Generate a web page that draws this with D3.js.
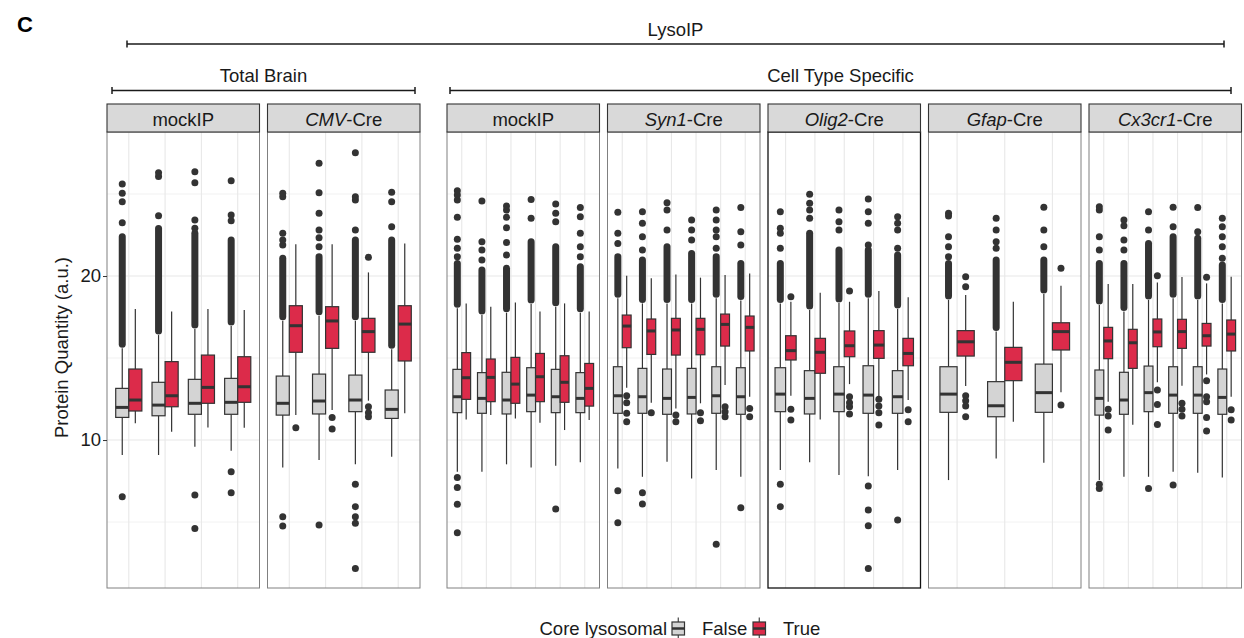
<!DOCTYPE html>
<html>
<head>
<meta charset="utf-8">
<script src="https://cdn.jsdelivr.net/npm/d3@7"></script>
<style>
  body { margin: 0; background: #fff; }
  svg { display: block; font-family: "Liberation Sans", Arial, Helvetica, sans-serif; }
</style>
</head>
<body>
<div id="chart"></div>
<script>
// facet strips: [italic part, plain part]
const panelLabels = [["", "mockIP"], ["CMV", "-Cre"], ["", "mockIP"], ["Syn1", "-Cre"],
                     ["Olig2", "-Cre"], ["Gfap", "-Cre"], ["Cx3cr1", "-Cre"]];
const panelGroup = [0, 0, 1, 1, 1, 1, 1];
const groupLabels = ["Total Brain", "Cell Type Specific"];
const yTicks = [10, 20];
const yMinor = [5, 15, 25];

// per sample: [lower whisker, Q1, median, Q3, upper whisker]
const tbMockFalse = [[9.09, 11.38, 11.99, 13.15, 15.59], [9.09, 11.48, 12.13, 13.52, 16.40],
                     [9.59, 11.57, 12.24, 13.70, 16.77], [9.35, 11.57, 12.30, 13.76, 16.95]];
const tbMockTrue = [[11.02, 11.77, 12.44, 14.33, 17.99], [10.51, 12.03, 12.70, 14.78, 17.83],
                    [10.77, 12.24, 13.21, 15.18, 17.99], [10.75, 12.30, 13.25, 15.08, 17.93]];
const cmvFalse = [[8.33, 11.52, 12.24, 13.90, 17.28], [8.78, 11.59, 12.38, 14.02, 17.58],
                  [8.52, 11.73, 12.44, 13.96, 17.28], [8.98, 11.32, 11.87, 13.05, 15.53]];
const cmvTrue = [[11.52, 15.35, 16.97, 18.19, 21.93], [11.83, 15.59, 17.26, 18.13, 21.93],
                 [12.40, 15.35, 16.61, 17.42, 20.22], [11.63, 14.82, 17.07, 18.19, 21.99]];
const ctMockFalse = [[8.07, 11.67, 12.64, 14.31, 18.03], [8.07, 11.63, 12.54, 14.11, 17.62],
                     [8.52, 11.59, 12.44, 14.13, 17.76], [8.33, 11.73, 12.74, 14.41, 18.29],
                     [8.43, 11.67, 12.64, 14.31, 18.13], [8.64, 11.67, 12.54, 14.11, 17.76]];
const ctMockTrue = [[11.26, 12.48, 13.80, 15.33, 18.33], [11.52, 12.34, 13.82, 14.94, 18.13],
                    [11.32, 12.24, 13.41, 15.04, 18.39], [11.06, 12.34, 13.86, 15.28, 17.83],
                    [10.61, 12.30, 13.52, 15.14, 18.33], [11.22, 12.07, 13.15, 14.67, 17.83]];
const syn1False = [[8.27, 11.63, 12.70, 14.47, 18.64], [7.76, 11.63, 12.64, 14.37, 18.33],
                   [8.68, 11.57, 12.54, 14.33, 18.33], [7.66, 11.59, 12.60, 14.37, 18.33],
                   [8.17, 11.63, 12.70, 14.47, 18.64], [7.76, 11.57, 12.64, 14.41, 18.50]];
const syn1True = [[13.19, 15.63, 16.95, 17.62, 20.02], [12.28, 15.22, 16.65, 17.38, 19.86],
                  [11.93, 15.18, 16.71, 17.42, 20.10], [12.24, 15.20, 16.75, 17.42, 19.90],
                  [13.35, 15.73, 17.05, 17.68, 20.06], [12.64, 15.43, 16.87, 17.56, 20.16]];
const olig2False = [[8.17, 11.73, 12.80, 14.41, 18.33], [8.64, 11.59, 12.54, 14.23, 17.93],
                    [7.87, 11.73, 12.80, 14.47, 18.35], [7.80, 11.63, 12.74, 14.53, 18.64],
                    [8.17, 11.63, 12.64, 14.23, 17.99]];
const olig2True = [[12.70, 14.88, 15.45, 16.36, 18.43], [11.26, 14.07, 15.35, 16.20, 18.98],
                   [13.41, 15.08, 15.75, 16.65, 18.43], [12.64, 14.98, 15.79, 16.67, 19.09],
                   [12.44, 14.53, 15.28, 16.20, 18.70]];
const gfapFalse = [[7.56, 11.69, 12.80, 14.47, 18.54], [8.88, 11.42, 12.09, 13.56, 16.61],
                   [8.62, 11.69, 12.89, 14.63, 18.90]];
const gfapTrue = [[13.29, 15.12, 15.99, 16.67, 18.84], [11.12, 13.62, 14.74, 15.65, 18.43],
                  [12.91, 15.49, 16.61, 17.15, 19.41]];
const cx3cr1False = [[7.56, 11.52, 12.54, 14.27, 18.23], [7.76, 11.57, 12.44, 14.13, 17.83],
                     [7.76, 11.73, 12.89, 14.51, 18.54], [8.07, 11.63, 12.74, 14.47, 18.64],
                     [8.01, 11.63, 12.74, 14.47, 18.54], [7.72, 11.57, 12.60, 14.33, 18.33]];
const cx3cr1True = [[12.34, 14.96, 16.04, 16.87, 19.51], [10.93, 14.37, 15.93, 16.75, 19.51],
                    [13.52, 15.69, 16.59, 17.38, 19.61], [13.31, 15.59, 16.61, 17.36, 19.94],
                    [14.00, 15.73, 16.36, 17.11, 19.55], [12.64, 15.43, 16.46, 17.32, 19.96]];

// top of the dense run of outliers just above each False whisker
const tbMockDense = [22.4, 22.9, 22.6, 22.2];
const cmvDense = [21.08, 21.18, 22.2, 22.2];
const ctMockDense = [20.77, 20.37, 20.47, 22.09, 21.79, 20.57];
const syn1Dense = [21.18, 20.98, 21.79, 21.38, 21.18, 20.77];
const olig2Dense = [20.77, 22.60, 21.59, 21.59, 21.28];
const gfapDense = [20.77, 20.98, 20.98];
const cx3cr1Dense = [20.77, 20.77, 21.99, 22.40, 22.30, 20.67];

// single outliers
const tbMockFalseOut = [[23.25, 24.53, 25.04, 25.61, 6.54], [23.68, 26.06, 26.30],
                        [22.91, 23.41, 25.69, 26.36, 6.65, 4.61], [23.37, 23.72, 25.81, 8.07, 6.79]];
const tbMockTrueOut = [[], [], [], []];
const cmvFalseOut = [[21.89, 22.2, 22.6, 24.84, 25.04, 5.33, 4.76],
                     [21.79, 22.34, 22.80, 23.82, 25.08, 26.87, 4.82],
                     [22.80, 24.63, 24.84, 27.52, 7.30, 5.94, 5.33, 4.92, 2.17],
                     [23.01, 24.53, 25.10]];
const cmvTrueOut = [[10.75], [11.38, 10.67], [21.14, 12.03, 11.67, 11.42], []];
const ctMockFalseOut = [[21.18, 21.69, 22.24, 23.58, 24.63, 24.94, 25.20, 7.72, 7.11, 6.08, 4.35],
                        [20.98, 21.59, 22.09, 24.57], [21.28, 22.05, 22.95, 23.58, 24.02, 24.27],
                        [23.52, 24.67], [23.31, 23.82, 24.39, 5.79], [21.18, 21.79, 22.60, 23.62, 24.17]];
const ctMockTrueOut = [[], [], [], [], [], []];
const syn1FalseOut = [[21.99, 22.60, 23.88, 6.91, 4.96], [21.59, 22.40, 23.21, 23.92, 6.79, 6.10],
                      [22.80, 24.02, 24.47], [22.20, 22.80, 23.41],
                      [21.69, 22.40, 22.80, 23.41, 24.02, 3.64], [21.89, 22.70, 24.17, 5.87]];
const syn1TrueOut = [[12.70, 12.28, 11.63, 11.12], [11.67], [11.52, 11.12], [11.67, 11.18],
                     [12.03, 11.73, 11.42], [11.93, 11.42]];
const olig2FalseOut = [[21.69, 22.60, 22.91, 23.92, 7.30, 5.94], [23.52, 24.02, 24.43, 24.98],
                       [22.80, 23.31, 24.02], [21.89, 23.21, 23.92, 24.69, 7.20, 5.73, 4.78, 2.17],
                       [21.69, 22.80, 23.21, 23.62, 5.12]];
const olig2TrueOut = [[18.74, 11.87, 11.22], [], [19.09, 12.64, 12.28, 12.03, 11.59],
                      [12.48, 12.07, 11.67, 10.91], [11.85, 11.12]];
const gfapFalseOut = [[21.18, 21.79, 22.40, 23.66, 23.82], [21.69, 22.09, 22.80, 23.52],
                      [21.79, 22.80, 24.19]];
const gfapTrueOut = [[19.35, 19.96, 12.70, 12.40, 12.07, 11.42], [], [20.47, 12.13]];
const cx3cr1FalseOut = [[21.59, 22.40, 24.02, 24.23, 7.30, 7.05], [21.59, 22.20, 23.07, 23.41],
                        [22.80, 23.92, 7.05], [23.01, 24.19, 7.26], [22.70, 24.17],
                        [21.08, 21.79, 22.40, 23.01, 23.52]];
const cx3cr1TrueOut = [[11.87, 11.46, 10.61], [], [20.02, 13.05, 12.17, 10.95],
                       [12.24, 11.87, 11.46], [19.92, 13.62, 12.64, 12.34, 11.38, 10.55], [11.85, 11.22]];

const falseStats = [tbMockFalse, cmvFalse, ctMockFalse, syn1False, olig2False, gfapFalse, cx3cr1False];
const trueStats = [tbMockTrue, cmvTrue, ctMockTrue, syn1True, olig2True, gfapTrue, cx3cr1True];
const falseDense = [tbMockDense, cmvDense, ctMockDense, syn1Dense, olig2Dense, gfapDense, cx3cr1Dense];
const falseOut = [tbMockFalseOut, cmvFalseOut, ctMockFalseOut, syn1FalseOut, olig2FalseOut, gfapFalseOut, cx3cr1FalseOut];
const trueOut = [tbMockTrueOut, cmvTrueOut, ctMockTrueOut, syn1TrueOut, olig2TrueOut, gfapTrueOut, cx3cr1TrueOut];

const colFalse = "#d4d4d4", colTrue = "#dc2b4a", ink = "#333333";
const fs = "18.5px";

const svg = d3.select("#chart").append("svg")
    .attr("width", 1244)
    .attr("height", 638);

const panelTop = 132, panelBottom = 588;
const y = d3.scaleLinear().domain([0.98, 28.78]).range([panelBottom, panelTop]);

const groupStart = [107, 447], panelW = 152.5, panelGap = 8, ptR = 3.5;

function drawBox(g, cx, bw, s, dense, outs, fill) {
    g.append("line").attr("x1", cx).attr("x2", cx)
        .attr("y1", y(s[0])).attr("y2", y(s[1]))
        .attr("stroke", ink).attr("stroke-width", 1.2);
    g.append("line").attr("x1", cx).attr("x2", cx)
        .attr("y1", y(s[3])).attr("y2", y(s[4]))
        .attr("stroke", ink).attr("stroke-width", 1.2);
    g.append("rect")
        .attr("x", cx - bw / 2).attr("width", bw)
        .attr("y", y(s[3])).attr("height", y(s[1]) - y(s[3]))
        .attr("fill", fill).attr("stroke", ink).attr("stroke-width", 1.2);
    g.append("line")
        .attr("x1", cx - bw / 2).attr("x2", cx + bw / 2)
        .attr("y1", y(s[2])).attr("y2", y(s[2]))
        .attr("stroke", ink).attr("stroke-width", 3);
    if (dense != null) {
        // dense run of overlapping outlier points
        g.append("line").attr("x1", cx).attr("x2", cx)
            .attr("y1", y(s[4]) - 4).attr("y2", y(dense))
            .attr("stroke", ink).attr("stroke-width", ptR * 2)
            .attr("stroke-linecap", "round");
    }
    g.selectAll(null).data(outs).enter().append("circle")
        .attr("cx", cx).attr("cy", d => y(d)).attr("r", ptR)
        .attr("fill", ink);
}

const groupCount = [0, 0];
panelLabels.forEach(function(lab, i) {
    const gi = panelGroup[i];
    const x0 = groupStart[gi] + groupCount[gi] * (panelW + panelGap);
    groupCount[gi]++;
    const n = falseStats[i].length;
    const x = d3.scalePoint().domain(d3.range(n)).range([x0, x0 + panelW]).padding(0.6);
    const step = x.step(), bw = step * 0.36;
    const g = svg.append("g");

    // grid
    g.selectAll(null).data(yMinor).enter().append("line")
        .attr("x1", x0).attr("x2", x0 + panelW)
        .attr("y1", d => y(d)).attr("y2", d => y(d))
        .attr("stroke", "#eeeeee").attr("stroke-width", 0.8);
    g.selectAll(null).data(yTicks).enter().append("line")
        .attr("x1", x0).attr("x2", x0 + panelW)
        .attr("y1", d => y(d)).attr("y2", d => y(d))
        .attr("stroke", "#e8e8e8").attr("stroke-width", 1.1);
    g.selectAll(null).data(d3.range(n)).enter().append("line")
        .attr("x1", d => x(d)).attr("x2", d => x(d))
        .attr("y1", panelTop).attr("y2", panelBottom)
        .attr("stroke", "#e8e8e8").attr("stroke-width", 1.1);

    for (let k = 0; k < n; k++) {
        drawBox(g, x(k) - step * 0.18, bw, falseStats[i][k], falseDense[i][k], falseOut[i][k], colFalse);
        drawBox(g, x(k) + step * 0.18, bw, trueStats[i][k], null, trueOut[i][k], colTrue);
    }

    // panel border (Olig2 panel drawn darker)
    g.append("rect")
        .attr("x", x0).attr("y", panelTop).attr("width", panelW).attr("height", panelBottom - panelTop)
        .attr("fill", "none")
        .attr("stroke", lab[0] === "Olig2" ? "#111" : "#808080")
        .attr("stroke-width", lab[0] === "Olig2" ? 1.3 : 1);

    // strip
    g.append("rect")
        .attr("x", x0).attr("y", 104).attr("width", panelW).attr("height", panelTop - 104)
        .attr("fill", "#d9d9d9").attr("stroke", ink).attr("stroke-width", 1.1);
    const t = g.append("text")
        .attr("x", x0 + panelW / 2).attr("y", 125.5)
        .attr("text-anchor", "middle")
        .style("font-size", fs).attr("fill", "#1a1a1a");
    if (lab[0]) t.append("tspan").style("font-style", "italic").text(lab[0]);
    t.append("tspan").text(lab[1]);
});

// y axis on first panel
const yAxis = svg.append("g")
    .attr("transform", "translate(" + groupStart[0] + ",0)")
    .call(d3.axisLeft(y).tickValues(yTicks).tickSize(4).tickPadding(2));
yAxis.select(".domain").remove();
yAxis.selectAll("line").attr("stroke", ink);
yAxis.selectAll("text")
    .style("font-size", fs)
    .style("font-family", "'Liberation Sans', Arial, Helvetica, sans-serif")
    .attr("fill", "#1a1a1a");

svg.append("text")
    .attr("transform", "translate(68,347.5)rotate(-90)")
    .attr("text-anchor", "middle")
    .style("font-size", fs)
    .attr("fill", "#1a1a1a")
    .text("Protein Quantity (a.u.)");

// brackets
function bracket(xa, xb, yy, label) {
    const b = svg.append("g").attr("stroke", "#1a1a1a").attr("stroke-width", 1.5);
    b.append("line").attr("x1", xa).attr("x2", xb).attr("y1", yy).attr("y2", yy);
    b.append("line").attr("x1", xa).attr("x2", xa).attr("y1", yy - 3.5).attr("y2", yy + 3.5);
    b.append("line").attr("x1", xb).attr("x2", xb).attr("y1", yy - 3.5).attr("y2", yy + 3.5);
    svg.append("text")
        .attr("x", (xa + xb) / 2).attr("y", yy - 8.5)
        .attr("text-anchor", "middle")
        .style("font-size", fs).attr("fill", "#1a1a1a")
        .text(label);
}
bracket(127, 1224, 44, "LysoIP");
bracket(112, 415, 90.5, groupLabels[0]);
bracket(450, 1231, 90.5, groupLabels[1]);

svg.append("text")
    .attr("x", 17).attr("y", 32)
    .style("font-size", "22px").style("font-weight", "bold")
    .attr("fill", "#000")
    .text("C");

// legend
const legendKeys = [{ label: "False", fill: colFalse, x: 672 }, { label: "True", fill: colTrue, x: 753 }];
svg.append("text")
    .attr("x", 667).attr("y", 635)
    .attr("text-anchor", "end")
    .style("font-size", fs).attr("fill", "#1a1a1a")
    .text("Core lysosomal");
legendKeys.forEach(function(k) {
    const kg = svg.append("g");
    kg.append("line").attr("x1", k.x + 6.25).attr("x2", k.x + 6.25).attr("y1", 617.5).attr("y2", 638)
        .attr("stroke", ink).attr("stroke-width", 1.1);
    kg.append("rect").attr("x", k.x).attr("y", 622).attr("width", 12.5).attr("height", 13)
        .attr("fill", k.fill).attr("stroke", ink).attr("stroke-width", 1.2);
    kg.append("line").attr("x1", k.x).attr("x2", k.x + 12.5).attr("y1", 628.5).attr("y2", 628.5)
        .attr("stroke", ink).attr("stroke-width", 2.5);
    svg.append("text")
        .attr("x", k.x + 30).attr("y", 635)
        .style("font-size", fs).attr("fill", "#1a1a1a")
        .text(k.label);
});
</script>
</body>
</html>
